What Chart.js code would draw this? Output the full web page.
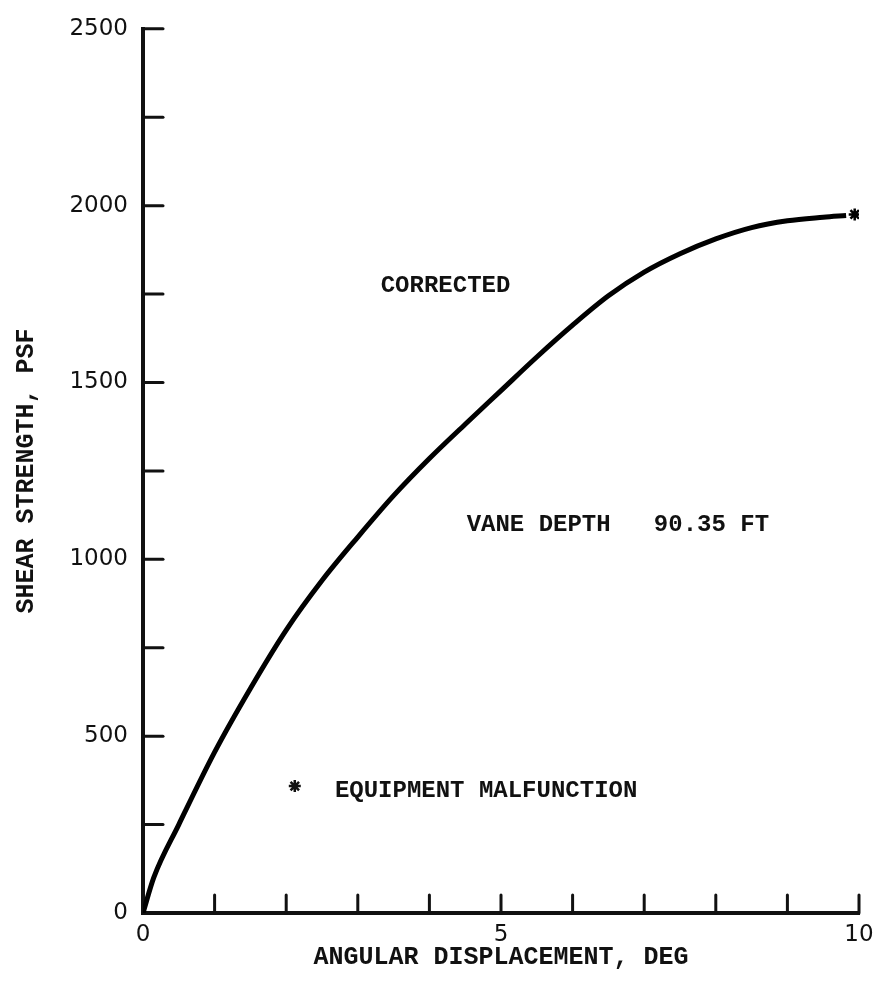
<!DOCTYPE html>
<html>
<head>
<meta charset="utf-8">
<script src="https://cdn.jsdelivr.net/npm/chart.js@4.4.1/dist/chart.umd.min.js"></script>
<style>
html, body { margin: 0; padding: 0; background: #fff; }
#wrap { width: 882px; height: 997px; }
</style>
</head>
<body>
<div id="wrap"><canvas id="grafico"></canvas></div>
<script>
// curva
const deslocamento = [0, 0.15, 0.5, 1.0, 1.5, 2.0, 2.5, 3.0, 3.5, 4.0, 4.5, 5.0, 5.5, 6.0, 6.5, 7.0, 7.5, 8.0, 8.5, 9.0, 9.5, 9.82]
const resistencia = [0, 100, 250, 455, 635, 800, 940, 1063, 1180, 1285, 1382, 1477, 1572, 1662, 1745, 1812, 1864, 1906, 1938, 1957, 1967, 1972]

// ponto com defeito de equipamento
const malfuncaoX = [9.94]
const malfuncaoY = [1975]

const rotulosX = [0, 5, 10]
const rotulosY = [0, 500, 1000, 1500, 2000, 2500]

const notasTexto = ["CORRECTED", "VANE DEPTH   90.35 FT", "EQUIPMENT MALFUNCTION"]
const notasX = [3.32, 4.52, 2.68]
const notasY = [1774, 1096, 345]
const asteriscoNota = { x: 2.12, y: 359 }

const fonteTexto = "bold 24px 'Liberation Mono', 'Courier New', monospace"

const ticksInternos = {
    id: "ticksInternos",
    afterDraw(chart){
        const ctx = chart.ctx
        const sx = chart.scales.x
        const sy = chart.scales.y
        const x0 = sx.getPixelForValue(0)
        const y0 = sy.getPixelForValue(0)
        ctx.save()
        ctx.strokeStyle = "#111"
        ctx.lineWidth = 3
        ctx.lineCap = "round"
        sy.ticks.forEach(t => {
            if(t.value === 0) return
            const p = sy.getPixelForValue(t.value)
            ctx.beginPath()
            ctx.moveTo(x0, p)
            ctx.lineTo(x0 + 20, p)
            ctx.stroke()
        })
        sx.ticks.forEach(t => {
            if(t.value === 0) return
            const p = sx.getPixelForValue(t.value)
            ctx.beginPath()
            ctx.moveTo(p, y0)
            ctx.lineTo(p, y0 - 18)
            ctx.stroke()
        })
        ctx.restore()
    }
}

const notas = {
    id: "notas",
    afterDraw(chart){
        const ctx = chart.ctx
        const sx = chart.scales.x
        const sy = chart.scales.y
        ctx.save()
        ctx.fillStyle = "#111"
        ctx.font = fonteTexto
        ctx.textAlign = "left"
        ctx.textBaseline = "middle"
        notasTexto.forEach((txt, i) => {
            ctx.fillText(txt, sx.getPixelForValue(notasX[i]), sy.getPixelForValue(notasY[i]))
        })
        ctx.strokeStyle = "#111"
        ctx.lineWidth = 2.5
        Chart.helpers.drawPoint(ctx, { pointStyle: "star", radius: 6, rotation: 0, borderWidth: 2.5 },
            sx.getPixelForValue(asteriscoNota.x), sy.getPixelForValue(asteriscoNota.y))
        ctx.restore()
    }
}

new Chart(document.getElementById("grafico"), {
    type: "scatter",
    data: {
        datasets: [{
            label: "Corrected",
            data: deslocamento.map((x, i) => ({ x, y: resistencia[i] })),
            showLine: true,
            borderColor: "#000",
            borderWidth: 5,
            pointRadius: 0,
            cubicInterpolationMode: "monotone",
            fill: false
        }, {
            label: "Malfunction",
            data: malfuncaoX.map((x, i) => ({ x, y: malfuncaoY[i] })),
            pointStyle: "star",
            pointRadius: 6,
            borderWidth: 2.5,
            borderColor: "#000",
            backgroundColor: "#000"
        }]
    },
    options: {
        responsive: true,
        maintainAspectRatio: false,
        animation: false,
        layout: { padding: { top: 21, right: 23, left: 0, bottom: 0 } },
        plugins: { legend: { display: false }, tooltip: { enabled: false } },
        scales: {
            x: {
                type: "linear",
                min: 0,
                max: 10,
                afterFit(s){ s.height = 84 },
                afterBuildTicks(s){ s.ticks = Array.from({ length: 11 }, (_, i) => ({ value: i })) },
                grid: { display: false, drawTicks: false },
                border: { display: true, color: "#111", width: 4 },
                ticks: {
                    padding: 8,
                    color: "#111",
                    font: { family: "'DejaVu Sans', sans-serif", size: 23 },
                    maxRotation: 0,
                    autoSkip: false,
                    callback: v => rotulosX.includes(v) ? String(v) : ""
                },
                title: {
                    display: true,
                    text: "ANGULAR DISPLACEMENT, DEG",
                    color: "#111",
                    font: { family: "'Liberation Mono', monospace", size: 25, weight: "bold", lineHeight: 1.1 },
                    padding: { top: 0, bottom: 26 }
                }
            },
            y: {
                type: "linear",
                min: 0,
                max: 2500,
                afterFit(s){ s.width = 143 },
                afterBuildTicks(s){ s.ticks = Array.from({ length: 11 }, (_, i) => ({ value: i * 250 })) },
                grid: { display: false, drawTicks: false },
                border: { display: true, color: "#111", width: 4 },
                ticks: {
                    padding: 15,
                    color: "#111",
                    font: { family: "'DejaVu Sans', sans-serif", size: 23 },
                    autoSkip: false,
                    callback: v => rotulosY.includes(v) ? String(v) : ""
                },
                title: {
                    display: true,
                    text: "SHEAR STRENGTH, PSF",
                    color: "#111",
                    font: { family: "'Liberation Mono', monospace", size: 25, weight: "bold", lineHeight: 1.1 },
                    padding: { top: 13, bottom: 0 }
                }
            }
        }
    },
    plugins: [ticksInternos, notas]
})
</script>
</body>
</html>
